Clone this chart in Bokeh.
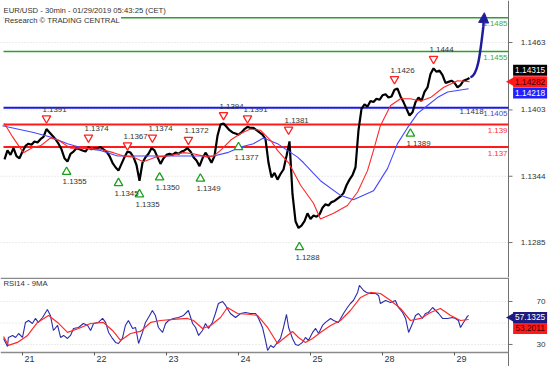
import math
from bokeh.plotting import figure
from bokeh.layouts import column
from bokeh.models import Range1d, Label, Arrow, NormalHead
from bokeh.embed import file_html
from bokeh.resources import INLINE
from bokeh.core.properties import value

FONT = "Liberation Sans"

# ---------------- data (hours since Jan 21 00:00, trading time) ----------------
hours = list(range(-6, 150))
close = [
    1.1359, 1.1367, 1.1363, 1.1369, 1.1362, 1.1360,
    1.1366, 1.1371, 1.1373, 1.1372, 1.1375, 1.1374, 1.1377, 1.1379, 1.1386, 1.1383,
    1.1380, 1.1377, 1.1373, 1.1368, 1.1360, 1.1357, 1.1364, 1.1366, 1.1369, 1.1368,
    1.1367, 1.1366, 1.1370, 1.1368, 1.1369,
    1.1369, 1.1370, 1.1368, 1.1366, 1.1362, 1.1356, 1.1352, 1.1349, 1.1355, 1.1361,
    1.1366, 1.1365, 1.1361, 1.1354, 1.1340, 1.1356, 1.1361, 1.1364, 1.1369, 1.1367,
    1.1361, 1.1355, 1.1360, 1.1363,
    1.1364, 1.1363, 1.1365, 1.1364, 1.1366, 1.1367, 1.1369, 1.1366, 1.1361, 1.1358,
    1.1353, 1.1360, 1.1365, 1.1361, 1.1356, 1.1362, 1.1380, 1.1390, 1.1391, 1.1388,
    1.1385, 1.1383, 1.1382, 1.1381,
    1.1383, 1.1386, 1.1388, 1.1387, 1.1387, 1.1385, 1.1383, 1.1381, 1.1377, 1.1356,
    1.1343, 1.1347, 1.1341, 1.1346, 1.1350, 1.1362, 1.1375, 1.1328, 1.1304, 1.1298,
    1.1300, 1.1304, 1.1311, 1.1306,
    1.1309, 1.1308, 1.1310, 1.1316, 1.1319, 1.1318, 1.1321, 1.1322, 1.1324, 1.1326,
    1.1329, 1.1336, 1.1341, 1.1345, 1.1352, 1.1385, 1.1404, 1.1408, 1.1406, 1.1411,
    1.1410, 1.1413, 1.1412, 1.1416,
    1.1417, 1.1414, 1.1415, 1.1421, 1.1422, 1.1415, 1.1410, 1.1404, 1.1398, 1.1401,
    1.1410, 1.1414, 1.1411, 1.1419, 1.1423, 1.1435, 1.1440, 1.1437, 1.1438, 1.1434,
    1.1427, 1.1428, 1.1429, 1.1427,
    1.1423, 1.1425, 1.1429, 1.1430, 1.14315,
]

red_ma_h = [-6, -3.3, 0.3, 3.7, 6, 9.3, 12, 16, 20.3, 26, 30.3, 33.7, 37, 40.3, 44.3,
            48.3, 53.7, 57, 61.7, 63.7, 66, 69.3, 72.7, 76, 79.3, 82.7, 85, 88.7, 92.7, 97,
            99.3, 103.7, 108.3, 111.7, 115, 117, 119.3, 122.7, 126, 129.3, 132.7, 136, 140.3,
            145, 149]
red_ma_v = [1.1391, 1.1379, 1.1365, 1.1370, 1.1371, 1.1378, 1.1376, 1.1369, 1.1369, 1.1368,
            1.1365, 1.1362, 1.1361, 1.1357, 1.1361, 1.1362, 1.1365, 1.1364, 1.1361, 1.1362,
            1.1367, 1.1376, 1.1382, 1.1386, 1.1385, 1.1376, 1.1367, 1.1356, 1.1336, 1.1320,
            1.1306, 1.1311, 1.1318, 1.1330, 1.1349, 1.1367, 1.1389, 1.1407, 1.1413, 1.1413,
            1.1411, 1.1414, 1.1423, 1.1429, 1.14282]

blue_ma_h = [-6.7, 3.7, 9.3, 15, 20.3, 26, 31.7, 40.3, 48.3, 55, 59.3, 63.7, 68.3, 72.7, 77,
             80.3, 85, 88.3, 91.7, 93.7, 99.3, 106, 110.3, 117, 121.7, 125, 128.3, 131.7, 135,
             138.3, 141.7, 148.7]
blue_ma_v = [1.1389, 1.1383, 1.1379, 1.1373, 1.1369, 1.1367, 1.1362, 1.1362, 1.1362, 1.1362,
             1.1362, 1.1362, 1.1365, 1.1370, 1.1373, 1.1378, 1.1373, 1.1367, 1.1361, 1.1356,
             1.1340, 1.1327, 1.1323, 1.1331, 1.1351, 1.1373, 1.1387, 1.1400, 1.1407, 1.1414,
             1.1419, 1.14218]

rsi_h = [-6.3, -5, -4.7, -3.3, -2.3, -1.3, 0, 1, 2, 3.3, 4.3, 5.3, 6.7, 8.3, 9.3, 10.3, 11.7,
         12.7, 13.7, 15, 16, 17, 18.7, 20.3, 21.7, 22.7, 23.7, 25.3, 26.7, 27.7, 28.7, 30, 31,
         32, 33.3, 34.3, 35.3, 36.7, 37.7, 38.7, 40, 41, 42, 43.3, 44.3, 45.3, 46.7, 47.7, 48.7,
         50.3, 52, 53.7, 55.3, 56.7, 57.7, 58.7, 60, 61, 62, 63.3, 64.3, 65.3, 66.7, 67.7, 69.3,
         71, 72.7, 74.3, 76, 77.7, 78.7, 80, 81, 81.7, 82.7, 83.7, 86, 87, 88, 88.7, 90, 91, 92,
         93.3, 94.3, 95.3, 96.7, 97.7, 98.7, 100, 101, 102.7, 103.7, 105.3, 107, 108.3, 109.3,
         110.3, 111.7, 112.3, 113.7, 114.7, 116, 117.7, 118.7, 119.3, 121, 122.7, 124.3, 125.3,
         126.7, 127.7, 128.7, 130, 131, 132, 133.3, 134.3, 135.3, 136.7, 137.7, 138.7, 140,
         141.7, 143.3, 144.3, 145.3, 146, 147, 148.3, 148.7]
rsi_v = [35.6, 28.1, 36.5, 38.4, 36.5, 40.2, 36.5, 50.5, 52.3, 49.5, 54.2, 50.5, 55.1, 62.6,
         57.0, 43.0, 47.7, 36.5, 38.4, 35.6, 38.4, 44.9, 45.8, 49.5, 47.7, 43.0, 49.5, 50.5,
         54.2, 50.5, 41.2, 35.6, 31.9, 30.9, 35.6, 47.7, 52.3, 44.9, 45.8, 30.9, 41.2, 50.5,
         55.1, 61.6, 57.0, 45.8, 41.2, 49.5, 52.3, 54.2, 55.1, 57.0, 61.6, 49.5, 45.8, 38.4,
         43.0, 49.5, 44.9, 50.5, 58.8, 68.1, 70.0, 66.3, 58.8, 55.1, 58.8, 59.8, 58.8, 58.8,
         54.2, 45.8, 33.7, 24.4, 29.1, 27.2, 35.6, 45.8, 57.9, 45.8, 35.6, 30.0, 29.1, 31.9,
         36.5, 33.7, 41.2, 44.9, 40.2, 47.7, 50.5, 54.2, 52.3, 50.5, 58.8, 64.4, 68.1, 70.9,
         78.4, 84.9, 80.2, 78.4, 77.4, 77.4, 75.6, 68.1, 70.9, 69.1, 70.9, 64.4, 59.8, 54.2,
         41.2, 49.5, 57.0, 58.8, 54.2, 58.8, 59.8, 64.4, 61.6, 58.8, 54.2, 54.2, 55.1, 54.2,
         52.3, 45.8, 50.5, 56.1, 57.13]

rsi_ma_h = [-6.3, -4.7, -1.7, 1.7, 5, 8.7, 11.7, 15, 18.7, 22.7, 27, 30, 32.7, 36, 39.3, 42.7,
            46, 50.3, 55, 57, 60, 62.7, 66, 68.3, 71.7, 76, 78.3, 81.7, 85, 88.3, 90, 92, 94.3,
            96.7, 99.3, 102.7, 106, 109.3, 112.7, 116, 119.3, 122.7, 126, 129.3, 132.7, 136,
            139.3, 142.7, 146, 148.7]
rsi_ma_v = [37.4, 29.1, 31.9, 38.4, 50.5, 57.0, 50.5, 41.2, 44.9, 49.5, 50.5, 43.0, 33.7, 40.2,
            42.1, 50.5, 52.3, 53.3, 54.2, 52.3, 44.9, 47.7, 55.1, 64.4, 58.8, 57.9, 57.0, 45.8,
            30.9, 38.4, 42.1, 36.5, 31.9, 35.6, 41.2, 47.7, 52.3, 61.6, 73.7, 78.4, 77.4, 70.9,
            63.5, 52.3, 54.2, 59.8, 63.5, 57.0, 52.3, 53.2]

hi_h = [8, 22, 35, 43.3, 55.3, 67, 75, 88.7, 124, 137]
hi_v = [1.1391, 1.1374, 1.1367, 1.1374, 1.1372, 1.1394, 1.1391, 1.1381, 1.1426, 1.1444]
lo_h = [14.7, 32, 39, 45.7, 59.3, 72, 92.3, 129.3]
lo_v = [1.1355, 1.1345, 1.1335, 1.1350, 1.1349, 1.1377, 1.1288, 1.1389]
extra_lo_h = [147]
extra_lo_v = [1.1418]

level_vals = [1.1485, 1.1455, 1.1405, 1.1390, 1.1370]
level_text = ["1.1485", "1.1455", "1.1405", "1.139", "1.137"]
level_colors = ["#2f9e2f", "#2f9e2f", "#1a1ae6", "#ff1a1a", "#ff1a1a"]
level_label_colors = ["#3faa3f", "#3faa3f", "#4848c8", "#ff3030", "#ff3030"]
level_widths = [1.6, 1.6, 2, 2, 2]

arrow_x = [149.3, 151.8, 152.5, 153.6, 153.95]
arrow_y = [1.1432, 1.1434, 1.1452, 1.1477, 1.14895]

price_ticks = [1.1285, 1.1344, 1.1403, 1.1463]
rsi_ticks = [30, 70]
rsi_grid = [30, 50, 70]
day_ticks = [0, 24, 48, 72, 96, 120, 144]
day_labels = ["21", "22", "23", "24", "25", "28", "29"]

last_close, last_red, last_blue = 1.14315, 1.14282, 1.14218
last_rsi, last_rsi_ma = 57.1325, 53.2011

# ---------------- layout constants ----------------
W, H1, H2 = 554, 277, 89
x_lo, x_hi = -7.33, 177.33       # full canvas width
x_axis = 162.0                   # right price axis position
x_box = 169.2                    # centre of value boxes
x_ptr = 163.0                    # pointer of value boxes
p_lo, p_hi = 1.12539, 1.15004
r_lo, r_hi = 9.5, 92.3
r_axis = 22.6                    # bottom time axis
TXT = "#333333"
AXC = "#707070"


def base_fig(h, yr):
    f = figure(width=W, height=h, x_range=Range1d(x_lo, x_hi), y_range=yr,
               output_backend="svg", toolbar_location=None, x_axis_location=None,
               y_axis_location=None, min_border=0)
    f.outline_line_color = None
    f.xgrid.visible = False
    f.ygrid.visible = False
    return f


p = base_fig(H1, Range1d(p_lo, p_hi))

# grid, axis
p.segment(x0=x_lo, x1=x_axis, y0=price_ticks, y1=price_ticks, line_color="#d8d8d8",
          line_dash="1 2", line_width=1)
p.vspan(x=[x_axis], line_color=AXC, line_width=1)
tick_len = 4 * (x_hi - x_lo) / W
p.segment(x0=x_axis, x1=x_axis + tick_len, y0=price_ticks, y1=price_ticks, line_color=AXC)
p.text(x=x_axis, y=price_ticks, text=["%.4f" % t for t in price_ticks], x_offset=37,
       text_align="right", text_baseline="middle", text_color=TXT,
       text_font=value(FONT), text_font_size="8.1px")

# levels
p.segment(x0=x_lo + 1.0, x1=x_axis, y0=level_vals, y1=level_vals, line_color=level_colors,
          line_width=level_widths)

p.line(hours, close, line_color="black", line_width=2.2)
p.line(blue_ma_h, blue_ma_v, line_color="#4646ff", line_width=1.1)
p.line(red_ma_h, red_ma_v, line_color="#ff2626", line_width=1.1)

p.text(x=x_axis, y=level_vals, text=level_text, text_align="right",
       text_baseline="middle", x_offset=-1, y_offset=6, text_color=level_label_colors,
       text_font=value(FONT), text_font_size="7.9px")

p.scatter(hi_h, [v + 0.00045 for v in hi_v], marker="inverted_triangle", size=8.5,
          line_color="#ff2020", fill_color="white", line_width=1.3)
p.scatter(lo_h, [v - 0.00071 for v in lo_v], marker="triangle", size=8.5,
          line_color="#1f9f1f", fill_color="white", line_width=1.3)
p.text(x=hi_h, y=hi_v, text=["%.4f" % v for v in hi_v], x_offset=-4, y_offset=-14,
       text_align="left", text_baseline="middle", text_color=TXT,
       text_font=value(FONT), text_font_size="7.9px")
p.text(x=lo_h + extra_lo_h, y=lo_v + extra_lo_v,
       text=["%.4f" % v for v in lo_v + extra_lo_v], x_offset=-4, y_offset=18,
       text_align="left", text_baseline="middle", text_color=TXT,
       text_font=value(FONT), text_font_size="7.9px")

ARROW_C = "#1e1e9c"
p.bezier(x0=[arrow_x[0]], y0=[arrow_y[0]], cx0=[arrow_x[1]], cy0=[arrow_y[1]],
         cx1=[arrow_x[2]], cy1=[arrow_y[2]], x1=[arrow_x[3]], y1=[arrow_y[3]],
         line_color=ARROW_C, line_width=2.5)
p.add_layout(Arrow(end=NormalHead(size=10, fill_color=ARROW_C, line_color=ARROW_C),
                   x_start=arrow_x[3], y_start=arrow_y[3], x_end=arrow_x[4], y_end=arrow_y[4],
                   line_color=ARROW_C, line_width=2.5))

p.add_layout(Label(x=x_lo, y=1.14915, x_offset=3,
                   text="EUR/USD - 30min - 01/29/2019 05:43:25 (CET)",
                   text_font=FONT, text_font_size="7.7px", text_color=TXT,
                   text_baseline="middle", background_fill_color="white"))
p.add_layout(Label(x=x_lo, y=1.14826, x_offset=3, text="Research \u00a9 TRADING CENTRAL",
                   text_font=FONT, text_font_size="7.7px", text_color=TXT,
                   text_baseline="middle", background_fill_color="white", padding=1))

# value boxes on the price axis
box_step = 0.00102
box_y = [last_red + box_step, last_red, last_red - box_step]
box_txt = ["%.5f" % last_close, "%.5f" % last_red, "%.5f" % last_blue]
box_bg = ["black", "#ff1a1a", "#2020ff"]
box_fg = ["white", "#3a0000", "white"]
p.rect(x=x_box, y=box_y, width=34, height=11, width_units="screen", height_units="screen",
       fill_color=box_bg, line_color=None)
p.scatter(x=[x_ptr], y=[box_y[1]], marker="triangle", angle=math.pi / 2, size=9.5,
          fill_color=box_bg[1], line_color=None)
p.text(x=x_box, y=box_y, text=box_txt, text_align="center", text_baseline="middle",
       text_color=box_fg, text_font=value(FONT), text_font_size="8.3px")

# ---------------- RSI panel ----------------
p2 = base_fig(H2, Range1d(r_lo, r_hi))
p2.segment(x0=x_lo, x1=x_axis, y0=rsi_grid, y1=rsi_grid, line_color="#d8d8d8",
           line_dash="1 2", line_width=1)
p2.vspan(x=[x_axis], line_color=AXC, line_width=1)
p2.segment(x0=x_lo, x1=x_axis, y0=r_hi - 0.6, y1=r_hi - 0.6, line_color="#8a8a8a",
           line_width=1.5)
p2.segment(x0=x_lo, x1=x_axis, y0=r_axis, y1=r_axis, line_color="#8a8a8a", line_width=1.5)
rtick = 3 * (r_hi - r_lo) / H2
p2.segment(x0=day_ticks, x1=day_ticks, y0=r_axis, y1=r_axis - rtick, line_color="#555555")
p2.segment(x0=x_axis, x1=x_axis + tick_len, y0=rsi_ticks, y1=rsi_ticks, line_color=AXC)
p2.text(x=x_axis, y=rsi_ticks, text=[str(t) for t in rsi_ticks], x_offset=37,
        text_align="right", text_baseline="middle", text_color=TXT,
        text_font=value(FONT), text_font_size="8.1px")
p2.text(x=day_ticks, y=r_axis, text=day_labels, x_offset=2, y_offset=7,
        text_align="left", text_baseline="middle", text_color=TXT,
        text_font=value(FONT), text_font_size="9px")

p2.line(rsi_h, rsi_v, line_color="#2b2bab", line_width=1.1)
p2.line(rsi_ma_h, rsi_ma_v, line_color="#ff2a2a", line_width=1.2)

p2.add_layout(Label(x=x_lo, y=86.7, x_offset=3, text="RSI14 - 9MA", text_font=FONT,
                    text_font_size="7.7px", text_color=TXT, text_baseline="middle"))

rbox_y = [last_rsi - 2.0, last_rsi - 12.2]
rbox_txt = ["%.4f" % last_rsi, "%.4f" % last_rsi_ma]
rbox_bg = ["#1c1c80", "#ff1a1a"]
rbox_fg = ["white", "#3a0000"]
p2.rect(x=x_box, y=rbox_y, width=34, height=11, width_units="screen", height_units="screen",
        fill_color=rbox_bg, line_color=None)
p2.scatter(x=[x_ptr], y=[rbox_y[0]], marker="triangle", angle=math.pi / 2, size=9.5,
           fill_color=rbox_bg[0], line_color=None)
p2.text(x=x_box, y=rbox_y, text=rbox_txt, text_align="center", text_baseline="middle",
        text_color=rbox_fg, text_font=value(FONT), text_font_size="8.3px")

layout = column(p, p2, spacing=0)
open("out.html", "w").write(file_html(layout, INLINE))
